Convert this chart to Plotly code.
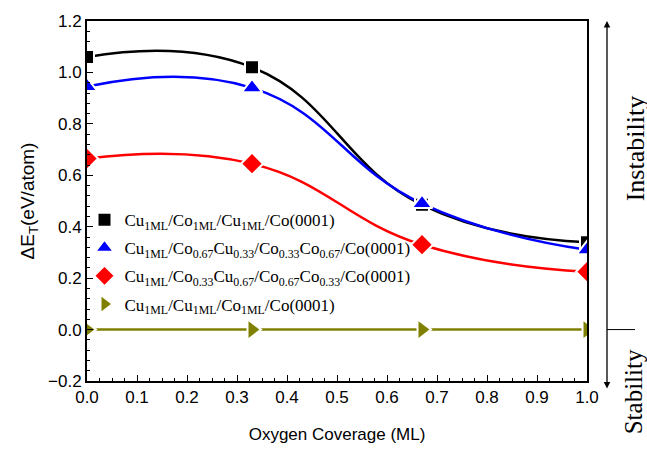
import plotly.graph_objects as go

coverage = [0.0, 0.33, 0.67, 1.0]
s1 = [1.06, 1.02, 0.485, 0.34]
s2 = [0.945, 0.94, 0.49, 0.31]
s3 = [0.665, 0.645, 0.33, 0.225]
s4 = [0.0, 0.0, 0.0, 0.0]

names = [
    "Cu<sub>1ML</sub>/Co<sub>1ML</sub>/Cu<sub>1ML</sub>/Co(0001)",
    "Cu<sub>1ML</sub>/Co<sub>0.67</sub>Cu<sub>0.33</sub>/Co<sub>0.33</sub>Co<sub>0.67</sub>/Co(0001)",
    "Cu<sub>1ML</sub>/Co<sub>0.33</sub>Cu<sub>0.67</sub>/Co<sub>0.67</sub>Co<sub>0.33</sub>/Co(0001)",
    "Cu<sub>1ML</sub>/Cu<sub>1ML</sub>/Co<sub>1ML</sub>/Co(0001)",
]
colors = ["#000000", "#0000FF", "#FF0000", "#808000"]
symbols = ["square", "triangle-up", "diamond", "triangle-right"]
sizes = [14, 18, 17, 18]
series = [s1, s2, s3, s4]

x_range = [0, 1]
y_range = [-0.2, 1.2]

fig = go.Figure()
for i, (ys, c) in enumerate(zip(series, colors)):
    shape = "linear" if i == 3 else "spline"
    fig.add_trace(go.Scatter(
        x=coverage, y=ys, mode="lines", showlegend=False, hoverinfo="skip",
        line=dict(color=c, width=2.5, shape=shape, smoothing=1.3),
    ))
for i, (ys, nm, c, sym, sz) in enumerate(zip(series, names, colors, symbols, sizes)):
    fig.add_trace(go.Scatter(
        x=coverage, y=ys, name=nm, mode="markers",
        marker=dict(symbol=sym, size=sz, color=c, line=dict(width=2, color="white")),
        legendgroup=str(i),
    ))

fig.update_layout(
    width=647, height=453,
    margin=dict(l=87, r=60, t=13, b=72),
    paper_bgcolor="white", plot_bgcolor="white",
    showlegend=True,
    legend=dict(x=-0.005, y=0.497, xanchor="left", yanchor="top",
                bgcolor="rgba(0,0,0,0)", borderwidth=0, tracegroupgap=3,
                font=dict(family="Liberation Serif, Times New Roman, serif", size=17, color="black")),
    font=dict(family="Liberation Sans, Arial, sans-serif", color="black"),
)
fig.update_xaxes(
    range=x_range, dtick=0.1, tickformat=".1f",
    ticks="inside", ticklen=6, tickwidth=1.2, tickcolor="black",
    minor=dict(ticks="inside", ticklen=3, dtick=0.025, tickcolor="black", tickwidth=1),
    showline=True, linecolor="black", linewidth=2, mirror=True,
    showgrid=False, zeroline=False,
    tickfont=dict(size=17),
    title=dict(text="Oxygen Coverage (ML)", font=dict(size=17), standoff=22),
)
fig.update_yaxes(
    range=y_range, dtick=0.2, tickformat=".1f",
    ticks="inside", ticklen=6, tickwidth=1.2, tickcolor="black",
    minor=dict(ticks="inside", ticklen=3, dtick=0.04, tickcolor="black", tickwidth=1),
    showline=True, linecolor="black", linewidth=2, mirror=True,
    showgrid=False, zeroline=False,
    tickfont=dict(size=17),
    title=dict(text="ΔE<sub>T</sub>(eV/atom)", font=dict(size=19), standoff=8),
)

# right-side stability indicator
zero_paper = (0 - y_range[0]) / (y_range[1] - y_range[0])
fig.add_annotation(x=1.04, y=1.0, xref="paper", yref="paper",
                   ax=0, ay=369, axref="pixel", ayref="pixel", text="", showarrow=True,
                   arrowhead=2, arrowsize=1, arrowwidth=1.3, arrowside="end+start",
                   arrowcolor="black")
fig.add_shape(type="line", xref="paper", yref="paper", x0=1.04, x1=1.096,
              y0=zero_paper, y1=zero_paper, line=dict(color="black", width=1))
serif = "Liberation Serif, Times New Roman, serif"
fig.add_annotation(x=1.097, y=0.645, xref="paper", yref="paper", text="Instability",
                   xanchor="center", yanchor="middle",
                   showarrow=False, textangle=-90, font=dict(family=serif, size=26, color="black"))
fig.add_annotation(x=1.093, y=-0.03, xref="paper", yref="paper", text="Stability",
                   xanchor="center", yanchor="middle",
                   showarrow=False, textangle=-90, font=dict(family=serif, size=25, color="black"))

fig.write_html("out.html")
